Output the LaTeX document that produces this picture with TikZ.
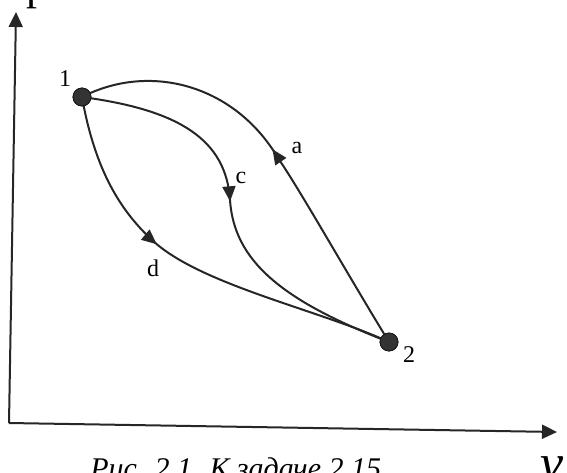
\documentclass[tikz,border=0pt]{standalone}
\usepackage{fontspec}
\setmainfont{Liberation Serif}[ItalicFont={Liberation Serif Italic}, BoldFont={Liberation Serif Bold}]
\usetikzlibrary{arrows.meta,decorations.markings}
\tikzset{
  curve/.style={line width=1pt, draw=black!85},
  axis/.style={line width=1pt, draw=black!85, -{Triangle[length=7.5pt,width=7pt]}},
  pt/.style={circle, fill=black!80, draw=black!90, minimum size=9pt, inner sep=0pt},
  lbl/.style={font=\fontsize{12}{14}\selectfont, inner sep=0pt},
  midarrow/.style={postaction={decorate, decoration={markings,
     mark=at position #1 with {\arrow{Triangle[length=7.5pt,width=6.5pt]}}}}}
}
\begin{document}
\begin{tikzpicture}[x=0.5pt,y=-0.5pt]
\useasboundingbox (0,0) rectangle (567,472);
% axes
\coordinate (O) at (9,423);
\coordinate (Ytip) at (16,12);
\coordinate (Xtip) at (557,432);
\draw[axis] (O) -- (Ytip);
\draw[axis] (O) -- (Xtip);
% points
\node[pt] (p1) at (82,97) {};
\node[pt] (p2) at (389,342) {};
\node[lbl] (l1) at (65,79) {1};
\node[lbl] (l2) at (409,355) {2};
% curve a : from 2 to 1
\coordinate (A) at (278,158);
\draw[curve, midarrow=0.51] (p2.center) .. controls (345,270) and (300,190) .. (A)
   .. controls (235,85) and (150,62) .. (p1.center);
\node[lbl] (la) at (297,148) {a};
% curve c : from 1 to 2
\coordinate (C) at (230,200);
\draw[curve, midarrow=0.47] (p1.center) .. controls (180,110) and (226,140) .. (C)
   .. controls (234,260) and (280,300) .. (p2.center);
\node[lbl] (lc) at (241,178) {c};
% curve d : from 1 to 2
\coordinate (D) at (152,240);
\draw[curve, midarrow=0.40] (p1.center) .. controls (95,170) and (120,210) .. (D)
   .. controls (200,285) and (320,310) .. (p2.center);
\node[lbl] (ld) at (153,268) {d};
% redraw points on top
\node[pt] at (p1) {};
\node[pt] at (p2) {};
% texts partially cut by the frame, as in the reference
\node[anchor=base west, inner sep=0pt, font=\fontsize{22}{24}\selectfont] (ptop) at (26,-1) {p};
\node[anchor=base west, inner sep=0pt, font=\fontsize{15}{18}\selectfont\itshape] (cap) at (90,478) {Рис. 2.1. К задаче 2.15};
\node[anchor=base west, inner sep=0pt, font=\fontsize{26}{28}\selectfont\itshape] (vv) at (540,480) {v};
\end{tikzpicture}
\end{document}
